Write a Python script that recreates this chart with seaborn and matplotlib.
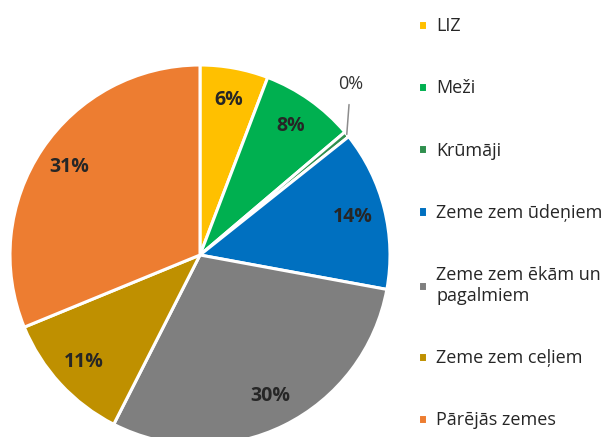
import matplotlib
matplotlib.use("Agg")
import matplotlib.pyplot as plt
import seaborn as sns
import numpy as np

# land use shares (%), clockwise from 12 o'clock
categories = ["LIZ", "Meži", "Krūmāji", "Zeme zem ūdeņiem",
              "Zeme zem ēkām un\npagalmiem", "Zeme zem ceļiem", "Pārējās zemes"]
shares = [5.8, 8.0, 0.5, 13.6, 29.6, 11.3, 31.2]
pct_labels = ["6%", "8%", "0%", "14%", "30%", "11%", "31%"]
colors = ["#FFC000", "#00B050", "#2F8F4E", "#0070C0", "#7F7F7F", "#BF9000", "#ED7D31"]

sns.set_style("white")
plt.rcParams['font.family'] = ['Open Sans', 'DejaVu Sans']

fig = plt.figure(figsize=(6.11, 4.37), dpi=100)
ax = fig.add_axes([10 / 611, -8 / 437, 380 / 611, 380 / 437])

wedges, _ = ax.pie(shares, colors=sns.color_palette(colors), startangle=90,
                   counterclock=False,
                   wedgeprops=dict(edgecolor="white", linewidth=2.2))
ax.set_xlim(-1, 1)
ax.set_ylim(-1, 1)
ax.set_aspect("equal")

# percentage labels inside slices
for w, lab in zip(wedges, pct_labels):
    mid = np.deg2rad((w.theta1 + w.theta2) / 2)
    if lab == "0%":
        x, y = np.cos(mid), np.sin(mid)
        ax.annotate(lab, xy=(x, y), xytext=(x + 0.02, 0.9), ha="center", va="center",
                    fontsize=13, color="#333333", annotation_clip=False,
                    arrowprops=dict(arrowstyle="-", color="#8C8C8C", lw=1.1,
                                    shrinkA=6, shrinkB=0))
        continue
    r = 0.83
    ax.text(r * np.cos(mid), r * np.sin(mid), lab, ha="center", va="center",
            fontsize=14, fontweight="bold", color="#262626")

leg = fig.legend(wedges, categories, loc="upper left",
                 bbox_to_anchor=(402 / 611, 1 - 1 / 437), frameon=False,
                 fontsize=13, handlelength=0.5, handleheight=0.5,
                 handletextpad=0.5, labelspacing=2.45)
for t in leg.get_texts():
    t.set_color("#262626")

fig.savefig("out.png", dpi=100)
